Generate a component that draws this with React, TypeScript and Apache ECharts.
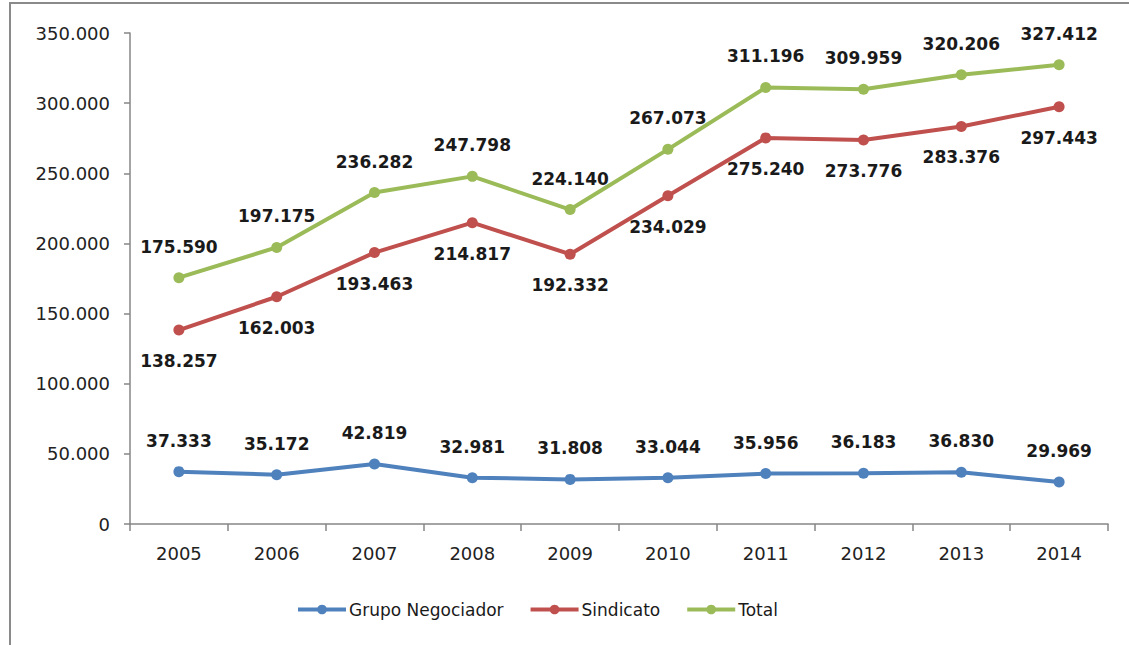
import React, { useEffect, useRef } from "react";
import * as echarts from "echarts";

const years = ["2005", "2006", "2007", "2008", "2009", "2010", "2011", "2012", "2013", "2014"];
const grupoNegociador = [37333, 35172, 42819, 32981, 31808, 33044, 35956, 36183, 36830, 29969];
const sindicato = [138257, 162003, 193463, 214817, 192332, 234029, 275240, 273776, 283376, 297443];
const total = [175590, 197175, 236282, 247798, 224140, 267073, 311196, 309959, 320206, 327412];

const fmt = (v: number) => {
  if (v === 0) return "0";
  const s = Math.round(v).toString();
  return s.replace(/\B(?=(\d{3})+(?!\d))/g, ".");
};

const FONT = "DejaVu Sans";

export default function App() {
  const ref = useRef<HTMLDivElement>(null);
  useEffect(() => {
    if (!ref.current) return;
    const chart = echarts.init(ref.current, undefined, { renderer: "svg" });
    const mkSeries = (name: string, data: number[], color: string, pos: string) => ({
      name,
      type: "line",
      data,
      symbol: "circle",
      symbolSize: 11,
      itemStyle: { color },
      lineStyle: { color, width: 4 },
      label: {
        show: true,
        position: pos,
        distance: 17,
        formatter: (p: any) => fmt(p.value),
        fontFamily: FONT,
        fontWeight: "bold",
        fontSize: 17,
        color: "#1a1a1a",
      },
    });
    chart.setOption({
      animation: false,
      backgroundColor: "#ffffff",
      textStyle: { fontFamily: FONT },
      graphic: [
        {
          type: "rect",
          shape: { x: 10, y: 3, width: 1300, height: 800 },
          style: { fill: "none", stroke: "#8a8a8a", lineWidth: 2 },
          silent: true,
          z: -1,
        },
      ],
      grid: { left: 130, right: 21, top: 33, bottom: 121, containLabel: false },
      legend: {
        left: 291,
        top: 596,
        itemWidth: 48,
        itemHeight: 12,
        itemGap: 25,
        lineStyle: { width: 4 },
        textStyle: { fontFamily: FONT, fontSize: 17, color: "#1a1a1a", padding: [0, 0, 0, -2] },
        data: ["Grupo Negociador", "Sindicato", "Total"],
      },
      xAxis: {
        type: "category",
        data: years,
        boundaryGap: true,
        axisLine: { lineStyle: { color: "#868686", width: 1.5 } },
        axisTick: { show: true, length: 7, lineStyle: { color: "#868686", width: 1.5 } },
        axisLabel: { fontFamily: FONT, fontSize: 18, color: "#222", margin: 20 },
      },
      yAxis: {
        type: "value",
        min: 0,
        max: 350000,
        interval: 50000,
        splitLine: { show: false },
        axisLine: { show: true, lineStyle: { color: "#868686", width: 1.5 } },
        axisTick: { show: true, length: 6, lineStyle: { color: "#868686", width: 1.5 } },
        axisLabel: {
          fontFamily: FONT,
          fontSize: 18,
          color: "#222",
          margin: 20,
          formatter: (v: number) => fmt(v),
        },
      },
      series: [
        mkSeries("Grupo Negociador", grupoNegociador, "#4F81BD", "top"),
        mkSeries("Sindicato", sindicato, "#C0504D", "bottom"),
        mkSeries("Total", total, "#9BBB59", "top"),
      ],
    });
    return () => chart.dispose();
  }, []);
  return (
    <div
      ref={ref}
      style={{ position: "fixed", left: 0, top: 0, width: 1129, height: 645 }}
    />
  );
}
